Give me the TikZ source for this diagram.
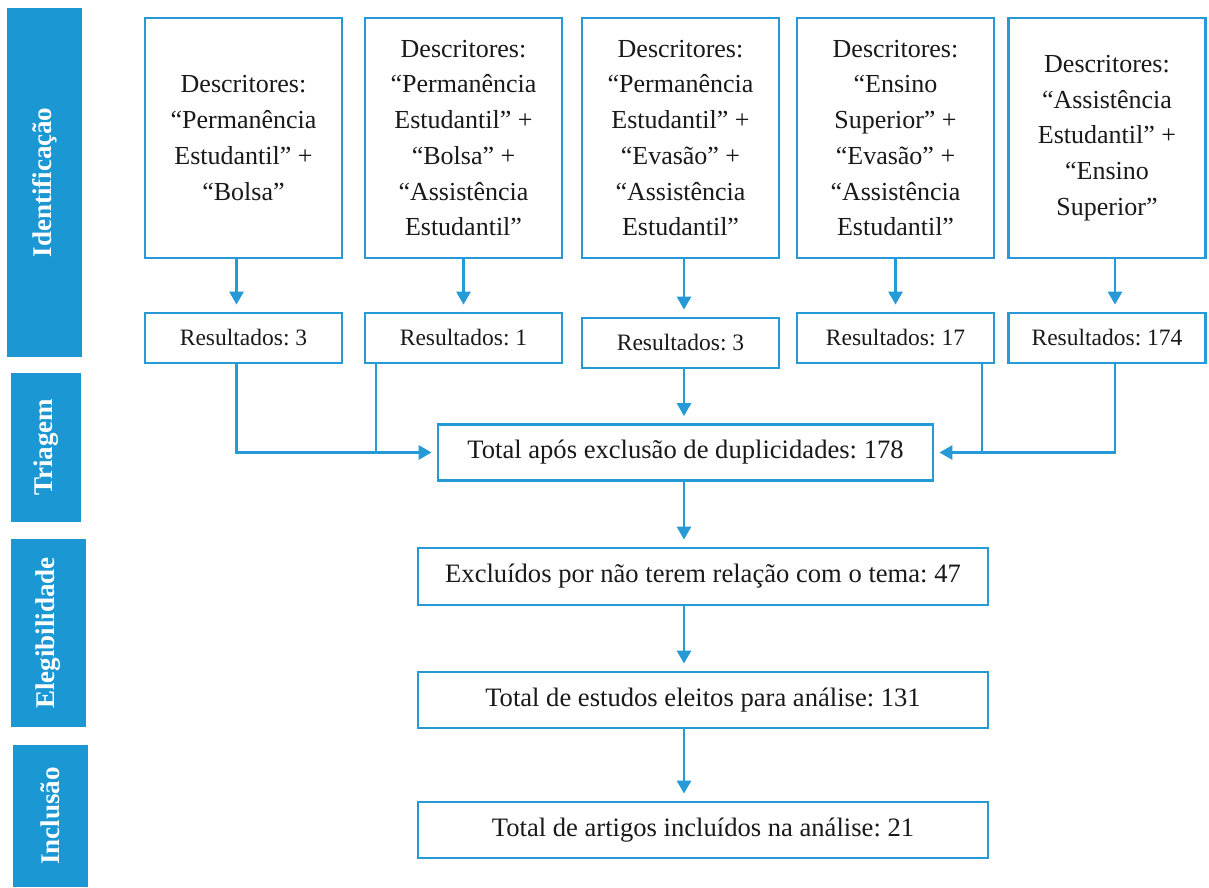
\documentclass[tikz,border=0pt]{standalone}
\usepackage{fontspec}
\setmainfont{Liberation Serif}
\usetikzlibrary{arrows.meta}
\definecolor{barblue}{RGB}{27,152,212}
\definecolor{lineblue}{RGB}{38,154,214}
\definecolor{txt}{RGB}{25,25,25}
\frenchspacing
\begin{document}
\begin{tikzpicture}[x=1pt,y=-1pt,
  descbox/.style={draw=lineblue, line width=2.8pt, fill=white, minimum width=197pt, minimum height=240pt, align=center, font=\fontsize{26}{35.7}\selectfont, text=txt, inner sep=0pt},
  resbox/.style={draw=lineblue, line width=2.8pt, fill=white, minimum width=197pt, minimum height=50pt, font=\fontsize{23.5}{28}\selectfont, text=txt, inner sep=0pt},
  flowbox/.style={draw=lineblue, line width=2.8pt, fill=white, minimum height=56pt, font=\fontsize{26.6}{30}\selectfont, text=txt, inner sep=0pt},
  phase/.style={fill=barblue, text=white, font=\bfseries\fontsize{27}{30}\selectfont, rotate=90, inner sep=0pt},
  conn/.style={draw=lineblue, line width=2.8pt},
  arr/.style={conn, -{Triangle[width=14pt,length=13pt]}, shorten >=7pt}
]
\useasboundingbox[fill=white] (0,0) rectangle (1209,887);

% phase bars
\node[phase, minimum width=349pt, minimum height=75pt] (lblI) at (44.5,182.5) {Identificação};
\node[phase, minimum width=149pt, minimum height=70pt] (lblT) at (46,447.5) {Triagem};
\node[phase, minimum width=188pt, minimum height=75pt] (lblE) at (48.5,633) {Elegibilidade};
\node[phase, minimum width=142pt, minimum height=75pt] (lblN) at (50.5,816) {Inclusão};

% descriptor boxes
\node[descbox] (d1) at (243.5,138) {Descritores:\\“Permanência\\Estudantil” +\\“Bolsa”};
\node[descbox] (d2) at (463.5,138) {Descritores:\\“Permanência\\Estudantil” +\\“Bolsa” +\\“Assistência\\Estudantil”};
\node[descbox] (d3) at (680.5,138) {Descritores:\\“Permanência\\Estudantil” +\\“Evasão” +\\“Assistência\\Estudantil”};
\node[descbox] (d4) at (895.5,138) {Descritores:\\“Ensino\\Superior” +\\“Evasão” +\\“Assistência\\Estudantil”};
\node[descbox] (d5) at (1107,138) {Descritores:\\“Assistência\\Estudantil” +\\“Ensino\\Superior”};

% result boxes
\node[resbox] (r1) at (243.5,338) {Resultados: 3};
\node[resbox] (r2) at (463.5,338) {Resultados: 1};
\node[resbox] (r3) at (680.5,343) {Resultados: 3};
\node[resbox] (r4) at (895.5,338) {Resultados: 17};
\node[resbox] (r5) at (1107,338) {Resultados: 174};

% flow boxes
\node[flowbox, minimum width=495pt] (tot) at (685.5,452.5) {Total após exclusão de duplicidades: 178};
\node[flowbox, minimum width=570pt, minimum height=57pt] (exc) at (703,576.5) {Excluídos por não terem relação com o tema: 47};
\node[flowbox, minimum width=570pt] (est) at (703,700) {Total de estudos eleitos para análise: 131};
\node[flowbox, minimum width=570pt] (art) at (703,830) {Total de artigos incluídos na análise: 21};

% helper coordinates
\coordinate (sp) at (684,0);
\coordinate (j2) at (376,452.5);
\coordinate (j4) at (982,452.5);

% arrows descriptors -> results
\draw[arr] ([xshift=-7pt]d1.south) -- ([xshift=-7pt]d1.south |- r1.north);
\draw[arr] (d2.south) -- (r2.north);
\draw[arr] (d3.south -| sp) -- (r3.north -| sp);
\draw[arr] (d4.south) -- (r4.north);
\draw[arr] ([xshift=8pt]d5.south) -- ([xshift=8pt]d5.south |- r5.north);

% results -> total
\draw[arr, shorten >=5pt] ([xshift=-7pt]r1.south) |- (tot.west);
\draw[conn] (r2.south -| j2) -- (j2);
\draw[arr] (r3.south -| sp) -- (tot.north -| sp);
\draw[conn] (r4.south -| j4) -- (j4);
\draw[arr, shorten >=5pt] ([xshift=8pt]r5.south) |- (tot.east);

% main flow
\draw[arr] (tot.south -| sp) -- (exc.north -| sp);
\draw[arr] (exc.south -| sp) -- (est.north -| sp);
\draw[arr] (est.south -| sp) -- (art.north -| sp);
\end{tikzpicture}
\end{document}
